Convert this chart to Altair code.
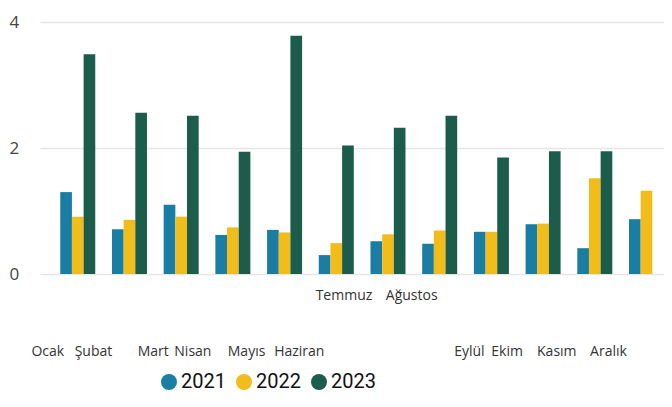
import altair as alt
import pandas as pd

months = ["Ocak", "Şubat", "Mart", "Nisan", "Mayıs", "Haziran",
          "Temmuz", "Ağustos", "Eylül", "Ekim", "Kasım", "Aralık"]
years = ["2021", "2022", "2023"]
v2021 = [1.30, 0.71, 1.10, 0.62, 0.70, 0.30, 0.52, 0.48, 0.67, 0.79, 0.41, 0.87]
v2022 = [0.91, 0.86, 0.91, 0.74, 0.66, 0.49, 0.63, 0.69, 0.67, 0.80, 1.52, 1.32]
v2023 = [3.49, 2.56, 2.51, 1.94, 3.78, 2.04, 2.32, 2.51, 1.85, 1.95, 1.95, None]
colors = ["#1a7da3", "#f2bd1b", "#1c5c4b"]

rows = []
for yr, vals in zip(years, [v2021, v2022, v2023]):
    for m, v in zip(months, vals):
        if v is not None:
            rows.append({"Ay": m, "Yıl": yr, "Değer": v})
df = pd.DataFrame(rows)

# label placement (style): horizontal shift and distance below the plot
label_dx = {"Ocak": -30, "Şubat": -36, "Mart": -28, "Nisan": -40, "Mayıs": -38,
            "Haziran": -37, "Temmuz": -44, "Ağustos": -28, "Eylül": -22,
            "Ekim": -36, "Kasım": -38, "Aralık": -38}
label_pad = {"Temmuz": 21, "Ağustos": 21}

offset_cond = {"condition": [{"test": f"datum.value === '{m}'", "value": d}
                             for m, d in label_dx.items()], "value": 0}
pad_cond = {"condition": [{"test": f"datum.value === '{m}'", "value": d}
                          for m, d in label_pad.items()], "value": 77}

chart = alt.Chart(df).mark_bar().encode(
    x=alt.X("Ay:N", sort=months, title=None,
            scale=alt.Scale(domain=months, paddingInner=0.323, paddingOuter=0.196, align=1),
            axis=alt.Axis(domain=False, ticks=False, tickSize=0, labelAngle=0,
                          labelFont="Open Sans", labelFontSize=14, labelColor="#333333",
                          labelBaseline="middle", labelOverlap=False, labelBound=False,
                          labelOffset=offset_cond, labelPadding=pad_cond)),
    xOffset=alt.XOffset("Yıl:N", scale=alt.Scale(domain=years, paddingInner=0, paddingOuter=0)),
    y=alt.Y("Değer:Q", title=None,
            scale=alt.Scale(domain=[0, 4], nice=False),
            axis=alt.Axis(values=[0, 2, 4], domain=False, ticks=False, tickSize=0,
                          labelAlign="left", labelPadding=31, labelBaseline="middle",
                          labelFont="Open Sans", labelFontSize=17, labelColor="#444444",
                          gridColor="#e6e6e6", gridWidth=1.5)),
    color=alt.Color("Yıl:N", scale=alt.Scale(domain=years, range=colors),
                    legend=alt.Legend(title=None, orient="none", legendX=119, legendY=350,
                                      direction="horizontal", symbolType="circle",
                                      symbolSize=256, symbolStrokeWidth=0, symbolOpacity=1,
                                      labelFont="Roboto", labelFontSize=20,
                                      labelColor="#111111", labelOffset=2, columnPadding=8)),
).properties(
    width=624, height=252,
    autosize=alt.AutoSizeParams(type="none"),
    padding={"left": 32, "top": 14, "right": 0, "bottom": 124},
    background="white",
).configure_view(stroke=None)

chart.save("out.html", embed_options={"renderer": "svg", "actions": False})
